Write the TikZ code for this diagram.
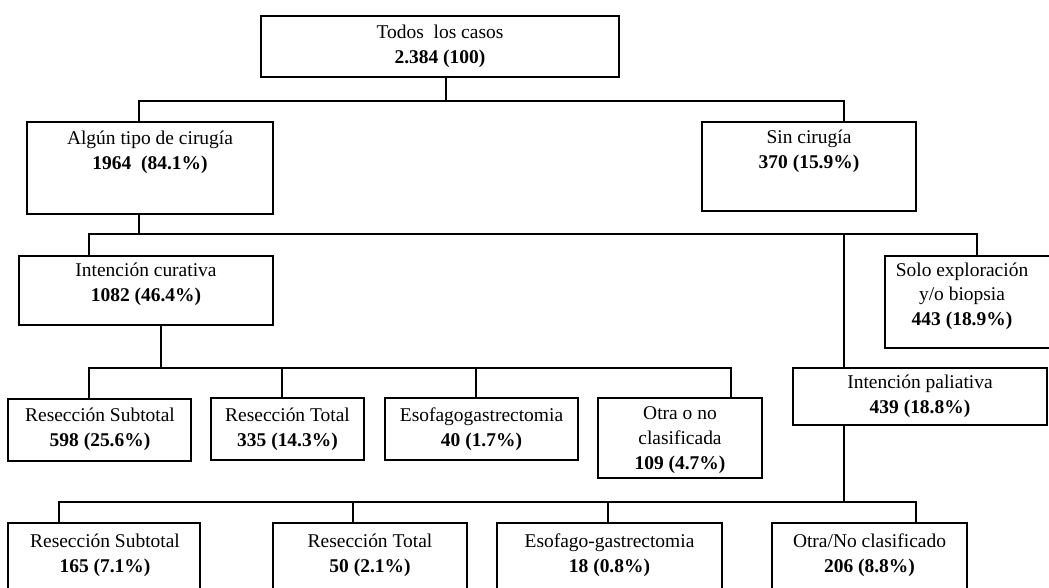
\documentclass[tikz,border=0pt]{standalone}
\usepackage{fontspec}
\setmainfont{Liberation Serif}
\usetikzlibrary{calc}
\tikzset{
  bx/.style={draw=black, line width=1.5pt, inner sep=0pt, outer sep=0pt, rectangle},
  tx/.style={font=\fontsize{14.6}{18.5}\selectfont, align=center, inner sep=0pt},
  ln/.style={draw=black, line width=1.2pt}
}
\newcommand\boxat[5]{\node[bx, minimum width={(#4-#2)*0.75pt}, minimum height={(#5-#3)*0.75pt}] (#1) at ({(#2+#4)/2},{(#3+#5)/2}) {};}
\begin{document}
\begin{tikzpicture}[x=0.75pt, y=-0.75pt]
\clip (0,0) rectangle (1049,588);
\fill[white] (0,0) rectangle (1049,588);
% boxes
\boxat{A}{261}{16}{619}{77}
\boxat{G}{27}{122}{273}{214}
\boxat{S}{702}{122}{916}{211}
\boxat{C}{19}{256}{273}{325}
\boxat{O}{885}{256}{1062}{348}
\boxat{P}{793}{368}{1047}{425}
\boxat{R1}{8}{399}{191}{461}
\boxat{R2}{211}{398}{364}{460}
\boxat{R3}{385}{398}{578}{460}
\boxat{R4}{598}{398}{762}{478}
\boxat{B1}{8}{523}{200}{610}
\boxat{B2}{273}{523}{467}{610}
\boxat{B3}{497}{523}{722}{610}
\boxat{B4}{772}{523}{967}{610}
% texts
\node[tx] (At) at (440,46) {Todos\ \ los casos\\\textbf{2.384 (100)}};
\node[tx] (Gt) at (150,152) {Algún tipo de cirugía\\\textbf{1964\ \ (84.1\%)}};
\node[tx] (St) at (809,151) {Sin cirugía\\\textbf{370 (15.9\%)}};
\node[tx] (Ct) at (146,284) {Intención curativa\\\textbf{1082 (46.4\%)}};
\node[tx] (Ot) at (962,296) {Solo exploración\\y/o biopsia\\\textbf{443 (18.9\%)}};
\node[tx] (Pt) at (920,396) {Intención paliativa\\\textbf{439 (18.8\%)}};
\node[tx] (R1t) at (100,429) {Resección Subtotal\\\textbf{598 (25.6\%)}};
\node[tx] (R2t) at (287.5,429) {Resección Total\\\textbf{335 (14.3\%)}};
\node[tx] (R3t) at (481.5,429) {Esofagogastrectomia\\\textbf{40 (1.7\%)}};
\node[tx] (R4t) at (680,440) {Otra o no\\clasificada\\\textbf{109 (4.7\%)}};
\node[tx] (B1t) at (105,555) {Resección Subtotal\\\textbf{165 (7.1\%)}};
\node[tx] (B2t) at (370,555) {Resección Total\\\textbf{50 (2.1\%)}};
\node[tx] (B3t) at (609.5,555) {Esofago-gastrectomia\\\textbf{18 (0.8\%)}};
\node[tx] (B4t) at (869.5,555) {Otra/No clasificado\\\textbf{206 (8.8\%)}};
% junction coordinates
\coordinate (k1) at (446,101);
\coordinate (k1l) at (139,101);
\coordinate (k1r) at (844,101);
\coordinate (k2) at (139,234);
\coordinate (k2l) at (89,234);
\coordinate (k2m) at (844,234);
\coordinate (k2r) at (977,234);
\coordinate (k3) at (161,368);
\coordinate (k3a) at (89,368);
\coordinate (k3b) at (282,368);
\coordinate (k3c) at (476,368);
\coordinate (k3d) at (731,368);
\coordinate (k4) at (844,502);
\coordinate (k4a) at (59,502);
\coordinate (k4b) at (353,502);
\coordinate (k4c) at (608,502);
\coordinate (k4d) at (916,502);
% connectors
\draw[ln] (A.south -| k1) -- (k1);
\draw[ln] (G.north -| k1l) -- (k1l) -- (k1r) -- (S.north -| k1r);
\draw[ln] (G.south -| k2) -- (k2);
\draw[ln] (C.north -| k2l) -- (k2l) -- (k2r) -- (O.north -| k2r);
\draw[ln] (k2m) -- (P.north -| k2m);
\draw[ln] (C.south -| k3) -- (k3);
\draw[ln] (R1.north -| k3a) -- (k3a) -- (k3d) -- (R4.north -| k3d);
\draw[ln] (k3b) -- (R2.north -| k3b);
\draw[ln] (k3c) -- (R3.north -| k3c);
\draw[ln] (P.south -| k4) -- (k4);
\draw[ln] (B1.north -| k4a) -- (k4a) -- (k4d) -- (B4.north -| k4d);
\draw[ln] (k4b) -- (B2.north -| k4b);
\draw[ln] (k4c) -- (B3.north -| k4c);
\end{tikzpicture}
\end{document}
